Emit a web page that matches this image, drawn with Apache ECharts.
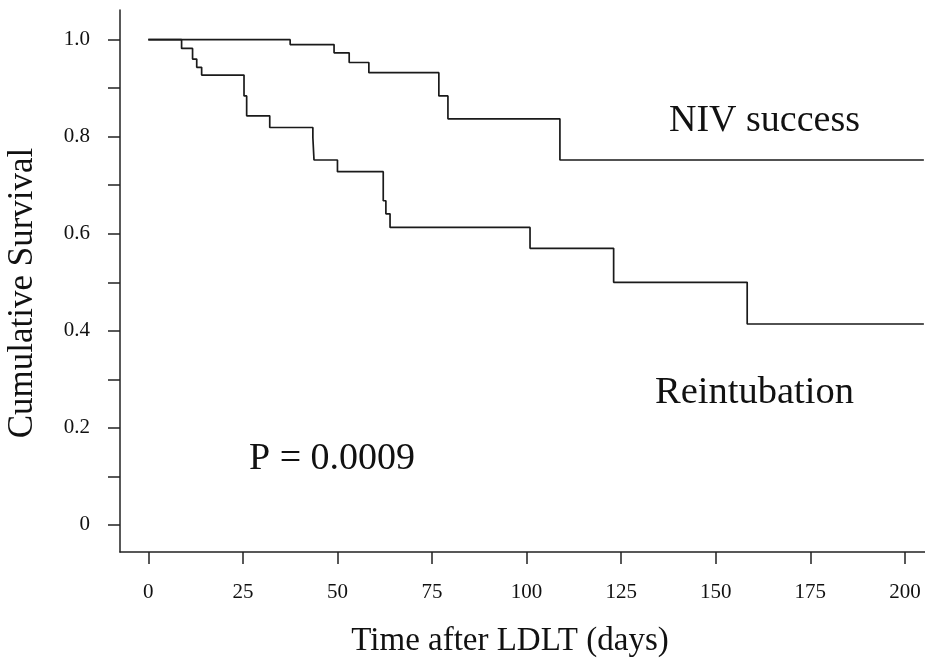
<!DOCTYPE html>
<html lang="en">

<head>
    <meta charset="UTF-8">
    <title>Cumulative Survival</title>
    <script src="https://cdn.jsdelivr.net/npm/echarts@6/dist/echarts.min.js"></script>
    <style>
        body {
            margin: 0;
            background: #fff;
        }
    </style>
</head>

<body>
    <div id="kmChart" style="width:925px;height:663px;"></div>
    <script>
        // survival steps (days, cumulative survival)
        let nivTimes = [0, 37.5, 49.1, 53.1, 58.3, 76.8, 79.2, 108.8, 205];
        let nivSurv = [1.0, 0.990, 0.973, 0.953, 0.932, 0.884, 0.837, 0.752, 0.752];

        let reinTimes = [0, 8.8, 11.7, 12.8, 14.1, 25.3, 26.0, 32.1, 43.5, 43.8, 50.0, 62.1, 62.8, 63.9, 100.9, 123.0, 158.3, 205];
        let reinSurv = [1.0, 0.982, 0.960, 0.943, 0.927, 0.884, 0.843, 0.819, 0.798, 0.752, 0.728, 0.668, 0.641, 0.613, 0.570, 0.500, 0.414, 0.414];

        let xTicks = [0, 25, 50, 75, 100, 125, 150, 175, 200];
        let yTicks = [0, 0.1, 0.2, 0.3, 0.4, 0.5, 0.6, 0.7, 0.8, 0.9, 1.0];
        let yLabels = [0, 0.2, 0.4, 0.6, 0.8, 1.0];

        let pairs = (xs, ys) => xs.map((x, i) => [x, ys[i]]);

        let serif = '"Liberation Serif", "Times New Roman", serif';
        let axisColor = '#222';

        let chart = echarts.init(document.querySelector('#kmChart'));
        let option = {
            animation: false,
            grid: { left: 120, right: 0, top: 10, bottom: 111 },
            xAxis: {
                type: 'value',
                min: -7.48,
                max: 205.3,
                splitLine: { show: false },
                axisLine: { show: true, onZero: false, lineStyle: { color: axisColor, width: 1.5 } },
                axisTick: { show: true, length: 12, customValues: xTicks, lineStyle: { color: axisColor, width: 1.5 } },
                axisLabel: {
                    customValues: xTicks,
                    margin: 30,
                    color: '#111',
                    fontFamily: serif,
                    fontSize: 21
                }
            },
            yAxis: {
                type: 'value',
                min: -0.0559,
                max: 1.0612,
                splitLine: { show: false },
                axisLine: { show: true, onZero: false, lineStyle: { color: axisColor, width: 1.5 } },
                axisTick: { show: true, length: 12, customValues: yTicks, lineStyle: { color: axisColor, width: 1.5 } },
                axisLabel: {
                    customValues: yLabels,
                    margin: 30,
                    color: '#111',
                    fontFamily: serif,
                    fontSize: 21,
                    formatter: v => (v === 0 ? '0' : v.toFixed(1))
                }
            },
            series: [{
                name: 'NIV success',
                type: 'line',
                step: 'end',
                showSymbol: false,
                data: pairs(nivTimes, nivSurv),
                lineStyle: { color: '#1a1a1a', width: 1.7 }
            }, {
                name: 'Reintubation',
                type: 'line',
                step: 'end',
                showSymbol: false,
                data: pairs(reinTimes, reinSurv),
                lineStyle: { color: '#1a1a1a', width: 1.7 }
            }],
            graphic: [{
                type: 'text',
                left: 669, top: 102,
                style: { text: 'NIV success', fill: '#111', font: '38px ' + serif }
            }, {
                type: 'text',
                left: 655, top: 373,
                style: { text: 'Reintubation', fill: '#111', font: '38.5px ' + serif }
            }, {
                type: 'text',
                left: 249, top: 440,
                style: { text: 'P = 0.0009', fill: '#111', font: '38px ' + serif }
            }, {
                type: 'text',
                x: 23, y: 293,
                rotation: Math.PI / 2,
                style: { text: 'Cumulative Survival', fill: '#111', font: '35px ' + serif, textAlign: 'center', textVerticalAlign: 'middle' }
            }, {
                type: 'text',
                x: 510, y: 641,
                style: { text: 'Time after LDLT (days)', fill: '#111', font: '33px ' + serif, textAlign: 'center', textVerticalAlign: 'middle' }
            }]
        };
        chart.setOption(option);
    </script>
</body>

</html>
